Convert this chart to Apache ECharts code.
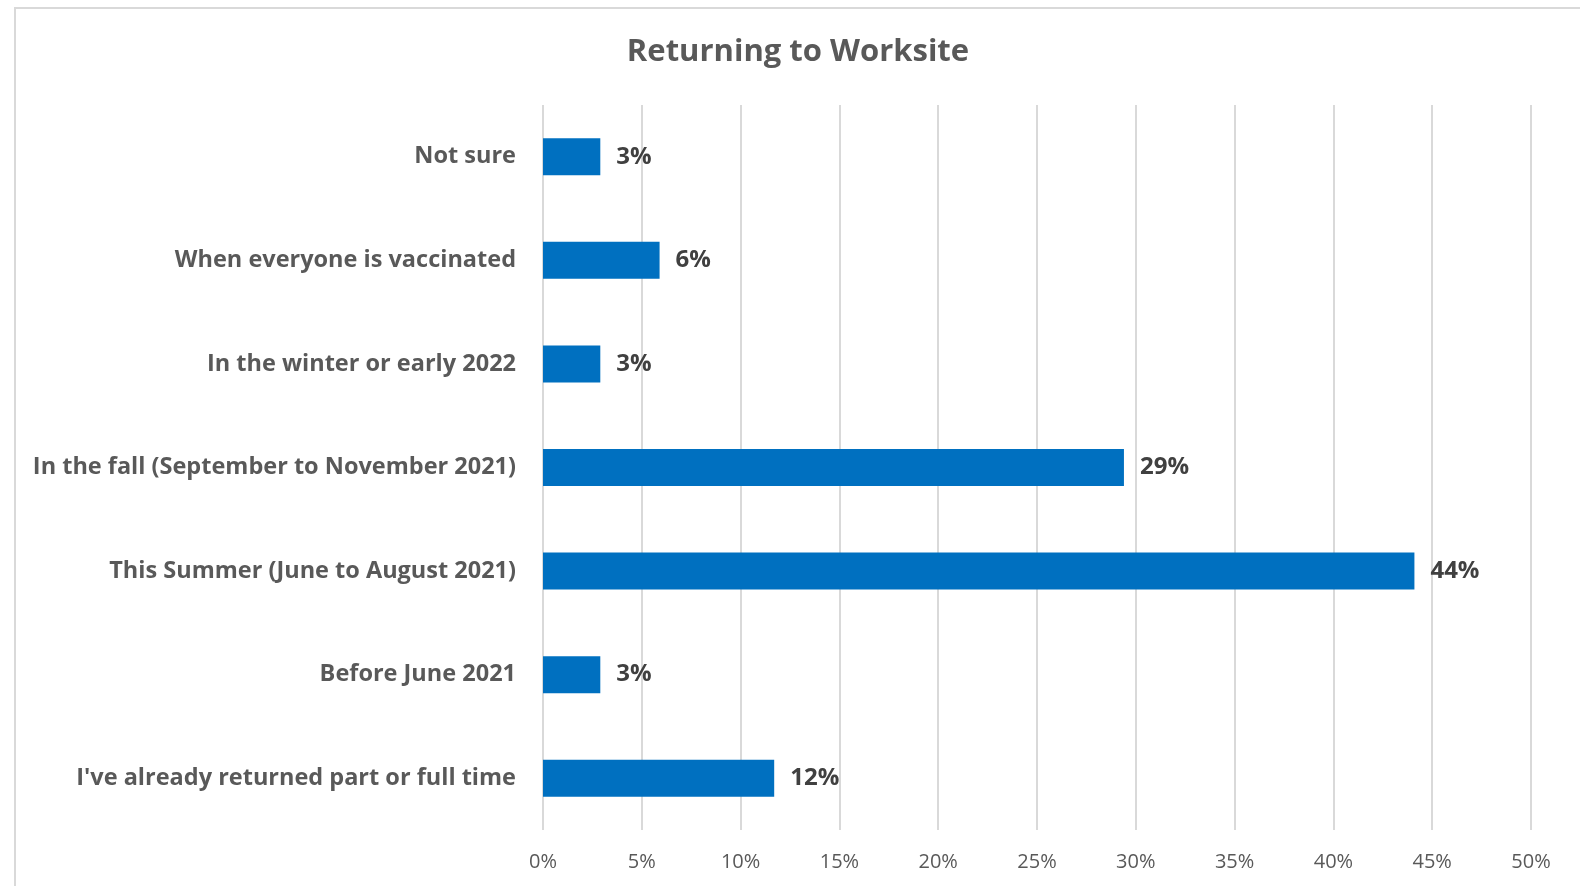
<!DOCTYPE html>
<html>
<head>
<meta charset="utf-8">
<script src="https://cdn.jsdelivr.net/npm/echarts@6/dist/echarts.min.js"></script>
<style>
html,body{margin:0;padding:0;background:#fff;}
#frame{position:absolute;left:14px;top:7px;width:1570px;height:890px;border:2px solid #d9d9d9;box-sizing:border-box;}
#chart{position:absolute;left:0;top:0;width:1580px;height:886px;}
</style>
</head>
<body>
<div id="frame"></div>
<div id="chart"></div>
<script>
const titleText = 'Returning to Worksite';
const categories = [
  "I've already returned part or full time",
  'Before June 2021',
  'This Summer (June to August 2021)',
  'In the fall (September to November 2021)',
  'In the winter or early 2022',
  'When everyone is vaccinated',
  'Not sure'
];
const values = [11.7, 2.9, 44.1, 29.4, 2.9, 5.9, 2.9];
const axisMin = 0;
const axisMax = 50;
const axisStep = 5;

const chart = echarts.init(document.getElementById('chart'), null, {renderer: 'canvas'});
const FONT = 'Open Sans';
chart.setOption({
  animation: false,
  title: {
    text: titleText,
    left: 793,
    textAlign: 'center',
    top: 32,
    textStyle: {fontFamily: FONT, fontSize: 31, fontWeight: 'bold', color: '#595959'}
  },
  grid: {left: 543, right: 49, top: 105, bottom: 56, containLabel: false},
  xAxis: {
    type: 'value',
    min: axisMin, max: axisMax, interval: axisStep,
    axisLine: {show: false},
    axisTick: {show: false},
    splitLine: {show: true, lineStyle: {color: '#d9d9d9', width: 2}},
    axisLabel: {
      formatter: v => v + '%',
      fontFamily: FONT, fontSize: 20, color: '#595959', margin: 22
    }
  },
  yAxis: {
    type: 'category',
    data: categories,
    axisLine: {show: false},
    axisTick: {show: false},
    axisLabel: {fontFamily: FONT, fontSize: 23.5, fontWeight: 'bold', color: '#595959', margin: 27, padding: [8, 0, 0, 0]}
  },
  series: [{
    type: 'bar',
    data: values,
    barWidth: 37,
    itemStyle: {color: '#0070C0'},
    label: {
      show: true, position: 'right', distance: 16,
      formatter: p => Math.round(p.value) + '%',
      fontFamily: FONT, fontSize: 24, fontWeight: 'bold', color: '#404040', padding: [8, 0, 0, 0]
    }
  }]
});
</script>
</body>
</html>
